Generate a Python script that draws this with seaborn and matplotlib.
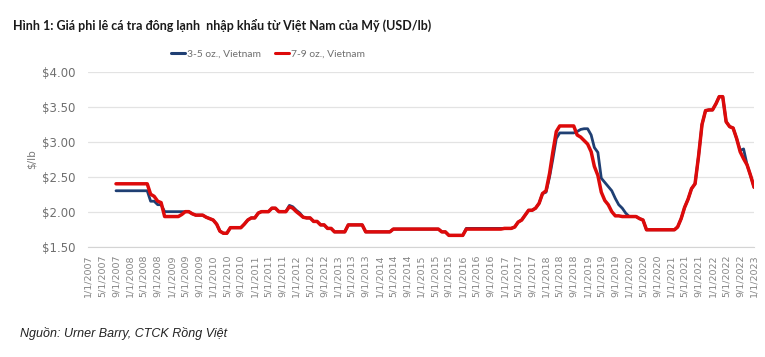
import matplotlib
matplotlib.use("Agg")
import matplotlib.pyplot as plt
import matplotlib.ticker as mticker
from matplotlib.lines import Line2D
import pandas as pd
import seaborn as sns

# monthly prices (USD/lb), Sep 2007 .. Jan 2023
months = pd.date_range("2007-09-01", "2023-01-01", freq="MS")

price_7_9 = [
    2.40, 2.40, 2.40, 2.40,
    2.40, 2.40, 2.40, 2.40, 2.40, 2.40, 2.25, 2.22, 2.15, 2.13, 1.93, 1.93,  # 2008
    1.93, 1.93, 1.93, 1.96, 2.00, 2.00, 1.97, 1.95, 1.95, 1.95, 1.92, 1.90,  # 2009
    1.88, 1.82, 1.72, 1.69, 1.69, 1.77, 1.77, 1.77, 1.77, 1.82, 1.88, 1.91,  # 2010
    1.91, 1.98, 2.00, 2.00, 2.00, 2.05, 2.05, 2.00, 2.00, 2.00, 2.07, 2.05,  # 2011
    2.00, 1.96, 1.92, 1.91, 1.91, 1.86, 1.86, 1.81, 1.81, 1.76, 1.76, 1.71,  # 2012
    1.71, 1.71, 1.71, 1.81, 1.81, 1.81, 1.81, 1.81, 1.71, 1.71, 1.71, 1.71,  # 2013
    1.71, 1.71, 1.71, 1.71, 1.75, 1.75, 1.75, 1.75, 1.75, 1.75, 1.75, 1.75,  # 2014
    1.75, 1.75, 1.75, 1.75, 1.75, 1.75, 1.71, 1.71, 1.66, 1.66, 1.66, 1.66,  # 2015
    1.66, 1.75, 1.75, 1.75, 1.75, 1.75, 1.75, 1.75, 1.75, 1.75, 1.75, 1.75,  # 2016
    1.76, 1.76, 1.76, 1.78, 1.85, 1.88, 1.95, 2.02, 2.02, 2.05, 2.12, 2.26,  # 2017
    2.30, 2.55, 2.85, 3.15, 3.23, 3.23, 3.23, 3.23, 3.23, 3.10, 3.07, 3.02,  # 2018
    2.97, 2.86, 2.65, 2.52, 2.28, 2.16, 2.10, 2.00, 1.94, 1.94, 1.93, 1.93,  # 2019
    1.93, 1.93, 1.93, 1.90, 1.88, 1.74, 1.74, 1.74, 1.74, 1.74, 1.74, 1.74,  # 2020
    1.74, 1.74, 1.78, 1.90, 2.06, 2.18, 2.33, 2.40, 2.80, 3.25, 3.45, 3.46,  # 2021
    3.46, 3.55, 3.65, 3.65, 3.29, 3.22, 3.20, 3.05, 2.86, 2.76, 2.67, 2.52,  # 2022
    2.35,
]

price_3_5 = [
    2.30, 2.30, 2.30, 2.30,
    2.30, 2.30, 2.30, 2.30, 2.30, 2.30, 2.15, 2.15, 2.10, 2.10, 2.00, 2.00,  # 2008
    2.00, 2.00, 2.00, 2.00, 2.00, 2.00, 1.97, 1.95, 1.95, 1.95, 1.92, 1.90,  # 2009
    1.88, 1.82, 1.72, 1.69, 1.69, 1.77, 1.77, 1.77, 1.77, 1.82, 1.88, 1.91,  # 2010
    1.91, 1.98, 2.00, 2.00, 2.00, 2.05, 2.05, 2.00, 2.00, 2.00, 2.09, 2.07,  # 2011
    2.02, 1.98, 1.92, 1.91, 1.91, 1.86, 1.86, 1.81, 1.81, 1.76, 1.76, 1.71,  # 2012
    1.71, 1.71, 1.71, 1.81, 1.81, 1.81, 1.81, 1.81, 1.71, 1.71, 1.71, 1.71,  # 2013
    1.71, 1.71, 1.71, 1.71, 1.75, 1.75, 1.75, 1.75, 1.75, 1.75, 1.75, 1.75,  # 2014
    1.75, 1.75, 1.75, 1.75, 1.75, 1.75, 1.71, 1.71, 1.66, 1.66, 1.66, 1.66,  # 2015
    1.66, 1.76, 1.76, 1.76, 1.76, 1.76, 1.76, 1.76, 1.76, 1.76, 1.76, 1.76,  # 2016
    1.76, 1.76, 1.76, 1.78, 1.85, 1.88, 1.95, 2.02, 2.02, 2.05, 2.12, 2.26,  # 2017
    2.28, 2.50, 2.75, 3.05, 3.13, 3.13, 3.13, 3.13, 3.13, 3.15, 3.18, 3.19,  # 2018
    3.19, 3.10, 2.92, 2.85, 2.48, 2.42, 2.36, 2.30, 2.19, 2.10, 2.05, 1.98,  # 2019
    1.93, 1.93, 1.93, 1.90, 1.88, 1.74, 1.74, 1.74, 1.74, 1.74, 1.74, 1.74,  # 2020
    1.74, 1.74, 1.78, 1.90, 2.06, 2.18, 2.33, 2.40, 2.80, 3.25, 3.45, 3.46,  # 2021
    3.46, 3.55, 3.65, 3.65, 3.29, 3.22, 3.20, 3.05, 2.88, 2.90, 2.67, 2.52,  # 2022
    2.35,
]

series_names = ["3-5 oz., Vietnam", "7-9 oz., Vietnam"]
colors = ["#1f3f73", "#dd0a0a"]

tick_dates = pd.date_range("2007-01-01", "2023-01-01", freq="4MS")
tick_labels = [f"{d.month}/1/{d.year}" for d in tick_dates]

df = pd.DataFrame({"date": months, series_names[0]: price_3_5, series_names[1]: price_7_9})
df = df.melt(id_vars="date", var_name="series", value_name="price")

sns.set_style("white")
plt.rcParams["font.family"] = ["DejaVu Sans"]

fig = plt.figure(figsize=(7.65, 3.57), dpi=100)
ax = fig.add_axes([0.115, 0.3095, 0.871, 0.488])

sns.lineplot(data=df[df.series == series_names[0]], x="date", y="price",
             color=colors[0], linewidth=2.0, ax=ax, legend=False)
sns.lineplot(data=df[df.series == series_names[1]], x="date", y="price",
             color=colors[1], linewidth=2.5, ax=ax, legend=False)

ax.set_ylim(1.5, 4.0)
ax.set_yticks([1.5, 2.0, 2.5, 3.0, 3.5, 4.0])
ax.yaxis.set_major_formatter(mticker.StrMethodFormatter("${x:.2f}"))
ax.set_xlim(pd.Timestamp("2006-12-29"), pd.Timestamp("2023-01-03"))
ax.set_xticks(tick_dates)
ax.set_xticklabels(tick_labels, rotation=90, fontsize=6.8, color="#858585")
ax.tick_params(axis="y", labelsize=8.5, labelcolor="#6f6f6f", length=0, pad=9)
ax.tick_params(axis="x", length=3, color="#cfcfcf", pad=3)

ax.grid(axis="y", color="#e3e3e3", linewidth=0.9)
ax.grid(axis="x", visible=False)
for s in ["left", "right", "top"]:
    ax.spines[s].set_visible(False)
ax.spines["bottom"].set_color("#d4d4d4")
ax.set_xlabel("")
ax.set_ylabel("$/lb", fontsize=7.5, color="#7a7a7a", labelpad=4)

handles = [Line2D([], [], color=c, linewidth=2.2) for c in colors]
fig.legend(handles, series_names, loc="center", bbox_to_anchor=(268 / 765, 1 - 54 / 357),
           ncol=2, frameon=False, handlelength=1.4, handletextpad=0.2,
           columnspacing=1.3, labelcolor="#6f6f6f",
           prop={"family": ["Lato", "DejaVu Sans"], "size": 7.4})

fig.text(13 / 765, 1 - 25 / 357,
         "Hình 1: Giá phi lê cá tra đông lạnh  nhập khẩu từ Việt Nam của Mỹ (USD/lb)",
         fontsize=9.0, fontweight="bold", color="#1a1a1a", va="center",
         family=["Lato", "DejaVu Sans"])
fig.text(20 / 765, 1 - 334 / 357, "Nguồn: Urner Barry, CTCK Rồng Việt",
         fontsize=9, style="italic", color="#222222", va="center",
         family=["Liberation Sans", "DejaVu Sans"])

fig.savefig("out.png", dpi=100, facecolor="white")
